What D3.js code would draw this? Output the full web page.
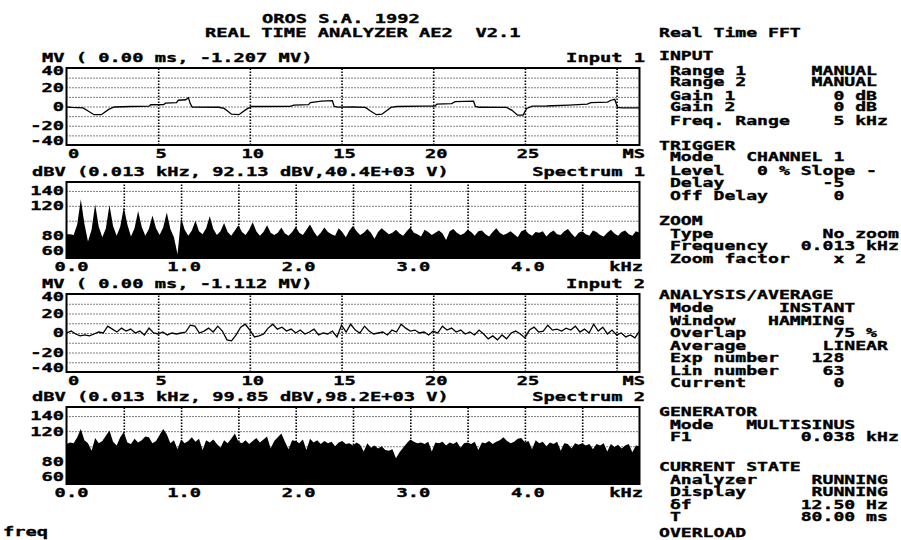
<!DOCTYPE html>
<html>
<head>
<meta charset="utf-8">
<script src="https://cdn.jsdelivr.net/npm/d3@7"></script>
<style>
  body { margin: 0; background: #fff; }
  svg text { font-family: "DejaVu Sans Mono", monospace; font-weight: bold; font-size: 12px; fill: #000; stroke: #000; stroke-width: 0.35px; white-space: pre; }
</style>
</head>
<body>
<div id="chart"></div>
<script>
// ---- data ----
const input1Time = [0, 0.3, 0.9, 1.2, 1.5, 1.9, 2.3, 2.6, 3.5, 4.5, 4.6, 5.3, 5.4, 6.0, 6.1, 6.5, 6.65, 6.75, 6.85,
  8.3, 8.6, 9.0, 9.4, 9.8, 10.1, 12.2, 12.4, 13.2, 13.3, 13.9, 14.5, 14.6, 14.8, 15.6, 16.3, 16.6, 16.9, 17.2, 17.7,
  18.0, 19.4, 20.1, 20.2, 21.0, 21.2, 22.2, 22.3, 22.5, 24.0, 24.3, 24.6, 24.9, 25.1, 25.4, 26.2, 26.5, 27.4, 28.4,
  28.6, 29.5, 29.7, 29.9, 30.05, 30.3, 31.25];
const input1Vals = [-0.5, -1, -1.5, -5, -8.5, -8.5, -3, -0.5, 0, 0.3, 1.8, 2, 3.5, 4, 6.5, 7, 9, 3, -0.5,
  -0.8, -2, -8, -8.5, -3, 0, 0.2, 1.5, 2, 4, 5.5, 6, 0, -0.7, -0.5, -1, -5, -8.5, -8, -1,
  0, 0.3, 0.5, 2.5, 3, 5, 5.5, 0, -0.8, -1, -4, -9, -9, -2, 0.3, 0.5, 0.8, 1.5, 2.5,
  4, 4.5, 6.5, 7.5, -1, -1.5, -1.5];

// input 2, one value every 0.25 ms
const input2Vals = [0, 2, -1, -3, -2, -3, -1, 1, 0, 7, 4, 1, 5, 2, 4, 0, 2, -2, 5, 0,
  -1, 1, -2, 0, -1, 0, 1, 8, 7, 0, 2, 5, 1, 7, 2, -7, -8, -2, 6, 9,
  3, -4, -3, -1, 5, 9, 4, 6, 2, 4, 0, 3, -1, 1, 4, -2, 0, -1, 2, -4,
  8, 1, 9, 3, 0, 7, 2, -1, 0, 1, -2, 3, 1, 9, 5, 2, 3, 0, 1, -2,
  2, 0, 7, 3, 5, 1, 3, -1, 1, -2, 3, -1, -6, -3, -7, -2, -6, 0, 2, -1,
  -5, 3, 6, 1, 2, 8, 3, 4, 2, 5, 3, 7, 1, 4, 0, 9, 2, 6, -1, 3,
  -2, 0, -4, -2, -5, 2];
const input2Step = 0.25;

// spectra, one value every 31.25 Hz from 0 to 5 kHz (dBV)
const spectrum1 = [82, 82, 81, 95, 129, 96, 72, 88, 122, 92, 78, 90, 121, 93, 80, 92, 118, 95, 79, 90,
  113, 92, 80, 89, 107, 90, 81, 91, 111, 89, 78, 55, 104, 88, 80, 87, 100, 86, 82, 90,
  106, 89, 81, 86, 97, 85, 80, 87, 94, 85, 81, 88, 98, 86, 80, 85, 94, 84, 81, 84,
  91, 83, 80, 85, 92, 84, 81, 88, 95, 86, 79, 84, 91, 85, 82, 80, 90, 85, 78, 87,
  93, 86, 81, 84, 89, 84, 76, 85, 90, 86, 82, 84, 88, 83, 80, 86, 91, 84, 82, 79,
  88, 85, 81, 84, 87, 83, 74, 86, 89, 84, 81, 83, 88, 85, 80, 86, 87, 82, 79, 85,
  90, 84, 81, 83, 86, 82, 78, 86, 88, 83, 80, 85, 84, 86, 79, 84, 87, 82, 81, 86,
  89, 83, 78, 84, 86, 82, 80, 87, 85, 81, 79, 84, 88, 83, 80, 85, 87, 82, 80, 86, 84];
const spectrum2 = [103, 105, 104, 112, 123, 108, 104, 94, 111, 104, 107, 114, 121, 106, 101, 112, 119, 105, 103, 110,
  105, 108, 113, 112, 104, 107, 115, 123, 116, 104, 108, 96, 109, 104, 107, 112, 106, 110, 95, 108,
  105, 109, 103, 98, 108, 104, 110, 117, 106, 104, 108, 103, 107, 111, 105, 109, 113, 97, 107, 112,
  117, 106, 96, 108, 107, 104, 109, 95, 110, 105, 108, 103, 107, 104, 106, 100, 105, 107, 103, 104,
  101, 105, 102, 93, 104, 98, 101, 97, 100, 95, 94, 96, 84, 92, 98, 104, 109, 106, 104, 105,
  103, 106, 93, 105, 104, 106, 101, 105, 103, 106, 98, 104, 105, 103, 106, 95, 105, 104, 107, 103,
  106, 108, 112, 107, 104, 106, 110, 111, 105, 107, 96, 108, 104, 106, 100, 105, 103, 106, 94, 104,
  103, 97, 104, 102, 104, 101, 103, 96, 103, 101, 104, 93, 103, 99, 102, 97, 101, 103, 92, 101, 100];
const specStep = 5 / 160;

// axes / tick labels
const timeTicks = [0, 5, 10, 15, 20, 25];
const mvTicks = [40, 20, 0, -20, -40];
const freqTicks = [0, 1, 2, 3, 4];
const dbTicks = [140, 120, 80, 60];
const timeGrid = [5, 10, 15, 20, 25, 30];
const mvGrid = [-30, -20, -10, 0, 10, 20, 30];
const freqGrid = [0.5, 1, 1.5, 2, 2.5, 3, 3.5, 4, 4.5];
const dbGrid = [100, 120, 140];

// status panel on the right
const sideLines = [
  ["Real Time FFT", 37],
  ["INPUT", 60],
  [" Range 1      MANUAL", 75],
  [" Range 2      MANUAL", 86],
  [" Gain 1         0 dB", 100],
  [" Gain 2         0 dB", 111],
  [" Freq. Range    5 kHz", 125],
  ["TRIGGER", 150],
  [" Mode   CHANNEL 1", 161],
  [" Level   0 % Slope -", 175],
  [" Delay         -5", 187],
  [" Off Delay      0", 200],
  ["ZOOM", 225],
  [" Type          No zoom", 238],
  [" Frequency   0.013 kHz", 250],
  [" Zoom factor    x 2", 263],
  ["ANALYSIS/AVERAGE", 299],
  [" Mode      INSTANT", 312],
  [" Window   HAMMING", 325],
  [" Overlap        75 %", 337],
  [" Average       LINEAR", 350],
  [" Exp number   128", 362],
  [" Lin number    63", 375],
  [" Current        0", 387],
  ["GENERATOR", 416],
  [" Mode   MULTISINUS", 429],
  [" F1          0.038 kHz", 441],
  ["CURRENT STATE", 471],
  [" Analyzer     RUNNING", 484],
  [" Display      RUNNING", 496],
  [" δf          12.50 Hz", 509],
  [" T           80.00 ms", 521],
  ["OVERLOAD", 537]
];

const SX = 1.56;
const SX_SIDE = 1.509;
const xL = 66.5, xR = 639.5;

const svg = d3.select("#chart")
    .append("svg")
    .attr("width", 901)
    .attr("height", 540);

svg.append("rect").attr("width", 901).attr("height", 540).attr("fill", "#fff");

function txt(x, y, s, anchor, sx) {
    return svg.append("text")
        .attr("transform", `translate(${x},${y}) scale(${sx || SX},1)`)
        .attr("text-anchor", anchor || "start")
        .text(s);
}

txt(262, 23, "OROS S.A. 1992");
txt(205, 37, "REAL TIME ANALYZER AE2  V2.1");

const xTime = d3.scaleLinear().domain([0, 31.25]).range([xL, xR]);
const xFreq = d3.scaleLinear().domain([0, 5]).range([xL, xR]);

const panels = [
    { kind: "time", top: 68, bottom: 145, title: "MV ( 0.00 ms, -1.207 MV)", name: "Input 1" },
    { kind: "freq", top: 182, bottom: 258, title: "dBV (0.013 kHz, 92.13 dBV,40.4E+03 V)", name: "Spectrum 1", data: spectrum1 },
    { kind: "time", top: 294, bottom: 372, title: "MV ( 0.00 ms, -1.112 MV)", name: "Input 2" },
    { kind: "freq", top: 407, bottom: 484, title: "dBV (0.013 kHz, 99.85 dBV,98.2E+03 V)", name: "Spectrum 2", data: spectrum2 }
];

panels.forEach((p, k) => {
    const isTime = p.kind === "time";
    const x = isTime ? xTime : xFreq;
    const y = d3.scaleLinear()
        .domain(isTime ? [-40, 40] : [50, 152])
        .range([p.bottom, p.top]);

    const clipId = "clip" + k;
    svg.append("clipPath").attr("id", clipId)
        .append("rect").attr("x", xL).attr("y", p.top).attr("width", xR - xL).attr("height", p.bottom - p.top);

    // grid
    const gy = svg.append("g")
        .attr("transform", `translate(${xL},0)`)
        .call(d3.axisLeft(y).tickValues(isTime ? mvGrid : dbGrid).tickSize(-(xR - xL)).tickFormat(""));
    gy.select(".domain").remove();
    gy.selectAll("line").attr("stroke", "#000").attr("stroke-width", 1).attr("stroke-dasharray", "1,2");

    const gx = svg.append("g")
        .attr("transform", `translate(0,${p.bottom})`)
        .call(d3.axisBottom(x).tickValues(isTime ? timeGrid : freqGrid).tickSize(-(p.bottom - p.top)).tickFormat(""));
    gx.select(".domain").remove();
    gx.selectAll("line").attr("stroke", "#000").attr("stroke-width", 1.6).attr("stroke-dasharray", "1.5,1.5");

    // data
    const plot = svg.append("g").attr("clip-path", `url(#${clipId})`);
    if (isTime) {
        let pts;
        if (k === 0) pts = input1Time.map((t, i) => [t, input1Vals[i]]);
        else pts = input2Vals.map((v, i) => [i * input2Step, v]);
        plot.append("path")
            .datum(pts)
            .attr("fill", "none")
            .attr("stroke", "#000")
            .attr("stroke-width", 1.3)
            .attr("d", d3.line().x(d => x(d[0])).y(d => y(d[1])));
    } else {
        plot.append("path")
            .datum(p.data)
            .attr("fill", "#000")
            .attr("d", d3.area().x((d, i) => x(i * specStep)).y0(p.bottom).y1(d => y(d)));
    }

    // frame
    svg.append("rect")
        .attr("x", xL).attr("y", p.top)
        .attr("width", xR - xL).attr("height", p.bottom - p.top)
        .attr("fill", "none").attr("stroke", "#000").attr("stroke-width", 2);

    // titles
    txt(isTime ? 42 : 32, p.top - 6, p.title);
    txt(645, p.top - 6, p.name, "end");

    // y labels
    const yt = isTime ? mvTicks : dbTicks;
    yt.forEach((v, i) => {
        let cy = y(v);
        if (i === 0) cy = Math.max(cy, p.top + 3);
        if (i === yt.length - 1) cy = Math.min(cy, p.bottom - 4);
        txt(64, cy + 4.4, String(v), "end");
    });

    // x labels
    const lb = p.bottom + 12.5;
    if (isTime) {
        timeTicks.forEach(v => {
            if (v === 0) txt(x(v) + 1.5, lb, "0");
            else txt(x(v) + 3, lb, String(v), "middle");
        });
        txt(645, lb, "MS", "end");
    } else {
        freqTicks.forEach(v => txt(x(v) + (v === 0 ? 5 : 3), lb, v.toFixed(1), "middle"));
        txt(643, lb, "kHz", "end");
    }
});

txt(3, 536, "freq");

sideLines.forEach(d => txt(659, d[1], d[0], "start", SX_SIDE));
</script>
</body>
</html>
